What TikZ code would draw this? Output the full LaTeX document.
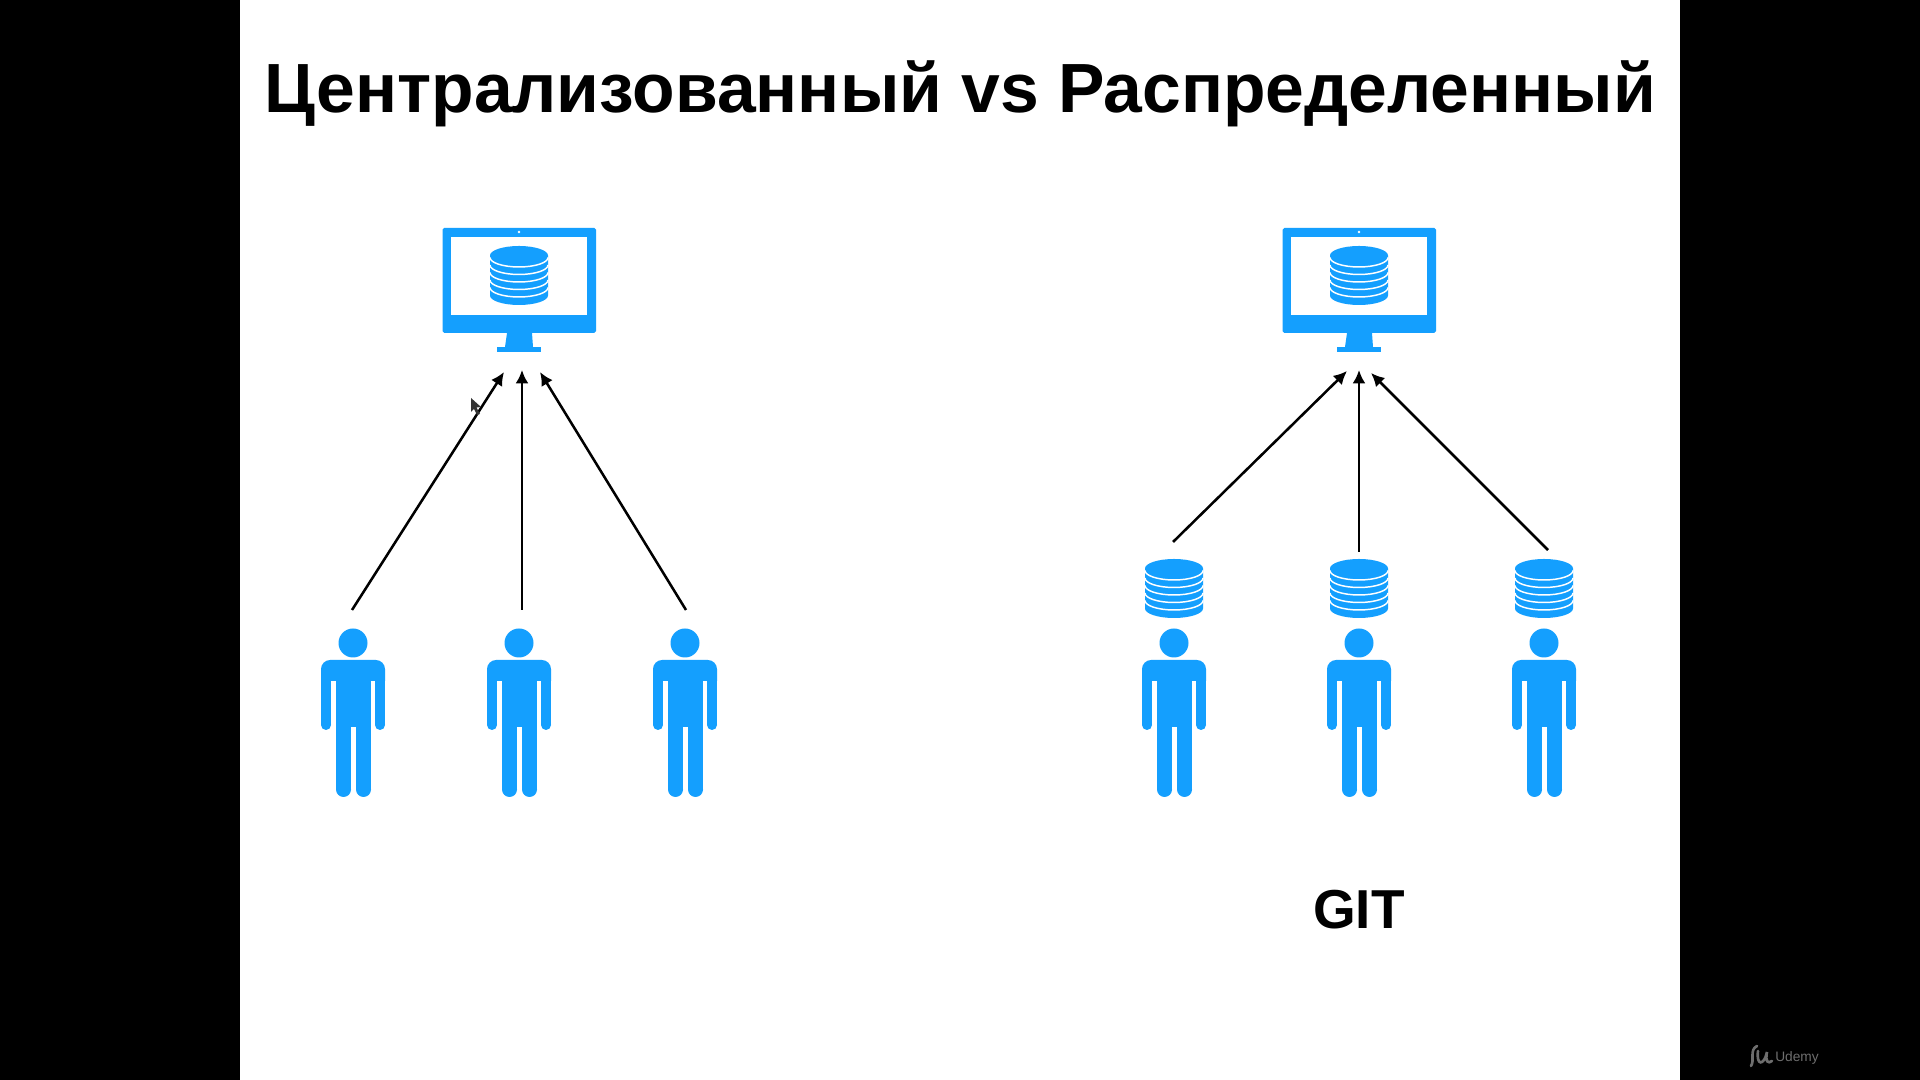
\documentclass[tikz,border=0pt]{standalone}
\usepackage{fontspec}
\setmainfont{Liberation Sans}
\usetikzlibrary{arrows.meta}

\definecolor{iconblue}{HTML}{149FFE}
\definecolor{logogray}{HTML}{6E6E6E}

\tikzset{
    connector/.style={-{Latex[length=3.8pt,width=3.7pt]},line width=0.72pt,black},
    heading/.style={font=\bfseries\fontsize{19.8pt}{24pt}\selectfont,inner sep=0pt},
    caption/.style={font=\bfseries\fontsize{15.6pt}{19pt}\selectfont,inner sep=0pt},
    pics/dbstack/.style={code={
        \fill[iconblue] (-29,0) -- (-29,40) arc[start angle=180,end angle=0,x radius=29,y radius=9.5]
            -- (29,0) arc[start angle=0,end angle=-180,x radius=29,y radius=9.5] -- cycle;
        \draw[white,line width=0.42pt] (29,2) arc[start angle=0,end angle=180,x radius=29,y radius=9.5];
        \draw[white,line width=0.42pt] (29,9.5) arc[start angle=0,end angle=180,x radius=29,y radius=9.5];
        \draw[white,line width=0.42pt] (29,17) arc[start angle=0,end angle=180,x radius=29,y radius=9.5];
        \draw[white,line width=0.42pt] (29,24.5) arc[start angle=0,end angle=180,x radius=29,y radius=9.5];
        \draw[white,line width=0.42pt] (29,32) arc[start angle=0,end angle=180,x radius=29,y radius=9.5];
    }},
    pics/user/.style={code={
        \fill[iconblue] (0,-17) circle[radius=14.5];
        % shoulders
        \fill[iconblue] (-32,21) {[rounded corners=2.6pt] -- (-32,0) -- (32,0)} -- (32,21) -- cycle;
        % arms
        \fill[iconblue] (-32,20) rectangle (-22,65);
        \fill[iconblue] (-27,65) circle[radius=5];
        \fill[iconblue] (22,20) rectangle (32,65);
        \fill[iconblue] (27,65) circle[radius=5];
        % torso and legs
        \fill[iconblue] (-17,20) rectangle (18,67);
        \fill[iconblue] (-17,66) rectangle (-2,129.5);
        \fill[iconblue] (-9.5,129.5) circle[radius=7.5];
        \fill[iconblue] (3,66) rectangle (18,129.5);
        \fill[iconblue] (10.5,129.5) circle[radius=7.5];
    }},
    pics/monitor/.style={code={
        \fill[iconblue,rounded corners=0.5pt] (-76.5,0) rectangle (77,105);
        \fill[white] (-68,9) rectangle (68,87);
        \fill[white] (0,4) circle[radius=1.3];
        \fill[iconblue] (-12,105) -- (13,105) -- (14,119) -- (-14,119) -- cycle;
        \fill[iconblue] (-22,119) rectangle (22,124);
        \pic at (0,27.5) {dbstack};
    }}
}

\begin{document}
\begin{tikzpicture}[x=0.01cm,y=-0.01cm]
    \useasboundingbox (0,0) rectangle (1920,1080);
    % Draw slide
    \fill[black] (0,0) rectangle (1920,1080);
    \fill[white] (240,0) rectangle (1680,1080);
    \node[heading] (title) at (960.5,94) {Централизованный vs Распределенный};

    % Draw left side
    \pic at (519,228) {monitor};
    \pic at (353,660) {user};
    \pic at (519,660) {user};
    \pic at (685,660) {user};

    % Draw right side
    \pic at (1359,228) {monitor};
    \pic at (1174,568.5) {dbstack};
    \pic at (1359,568.5) {dbstack};
    \pic at (1544,568.5) {dbstack};
    \pic at (1174,660) {user};
    \pic at (1359,660) {user};
    \pic at (1544,660) {user};
    \node[caption] (git) at (1359,910) {GIT};

    % Arrow ends
    \coordinate (leftA) at (352,610);
    \coordinate (leftB) at (522,610);
    \coordinate (leftC) at (686,610);
    \coordinate (topLa) at (504,372);
    \coordinate (topLb) at (522,370);
    \coordinate (topLc) at (540,372);
    \coordinate (rightA) at (1173,542);
    \coordinate (rightB) at (1359,552);
    \coordinate (rightC) at (1548,550);
    \coordinate (topRa) at (1347,371);
    \coordinate (topRb) at (1359,370);
    \coordinate (topRc) at (1371,373);

    % Draw arrows
    \draw[connector] (leftA) -- (topLa);
    \draw[connector] (leftB) -- (topLb);
    \draw[connector] (leftC) -- (topLc);
    \draw[connector] (rightA) -- (topRa);
    \draw[connector] (rightB) -- (topRb);
    \draw[connector] (rightC) -- (topRc);

    % Mouse pointer
    \fill[black!80] (471,398) -- (481,407) -- (476.5,407.5) -- (480,414) -- (477,415) -- (474,409) -- (471,412) -- cycle;

    % Udemy mark
    \draw[logogray,line width=0.75pt,line cap=round] (1757,1046) .. controls (1749,1050) and (1755,1060) .. (1751,1066);
    \draw[logogray,line width=0.75pt,line cap=round] (1758,1051) .. controls (1756,1066) and (1764,1066) .. (1767,1052) .. controls (1765,1062) and (1768,1064) .. (1772,1061);
    \node[logogray,font=\fontsize{3.9pt}{5pt}\selectfont,inner sep=0pt] (udemy) at (1797,1058) {Udemy};
\end{tikzpicture}
\end{document}
